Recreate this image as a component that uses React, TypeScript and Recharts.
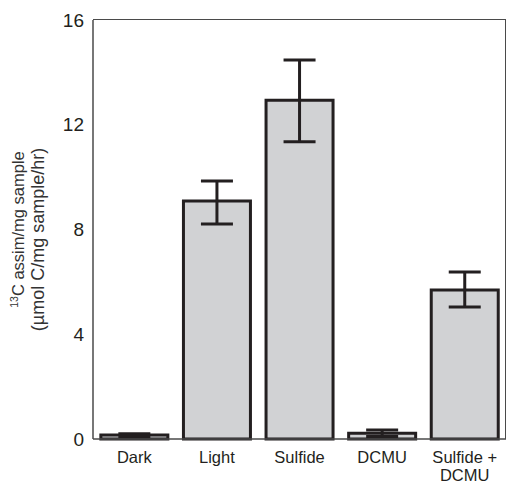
import { BarChart, Bar, XAxis, YAxis, ErrorBar } from 'recharts';

const categories = ['Dark', 'Light', 'Sulfide', 'DCMU', 'Sulfide +\nDCMU'];
const assim = [0.15, 9.09, 12.94, 0.22, 5.69];
const errLow = [0.05, 0.88, 1.59, 0.12, 0.65];
const errHigh = [0.05, 0.76, 1.53, 0.12, 0.69];
const yTicks = [0, 4, 8, 12, 16];

const data = categories.map((name, i) => ({
  name,
  value: assim[i],
  err: [errLow[i], errHigh[i]],
}));

const INK = '#231f20';
const FRAME = '#4a4a4a';
const FONT = '"Liberation Sans", Arial, Helvetica, sans-serif';

function CategoryTick(props: any) {
  const { x, y, payload } = props;
  const lines = String(payload.value).split('\n');
  return (
    <g transform={`translate(${x},${y})`}>
      {lines.map((line, i) => (
        <text
          key={i}
          x={0}
          y={15.5 + i * 18.5}
          textAnchor="middle"
          fontFamily={FONT}
          fontSize={16.5}
          fill={INK}
        >
          {line}
        </text>
      ))}
    </g>
  );
}

function YLabel(props: any) {
  const vb = props.viewBox || { x: 0, y: 20, width: 93, height: 419 };
  const cy = vb.y + vb.height / 2;
  return (
    <g>
      <text
        transform={`translate(24,${cy}) rotate(-90)`}
        textAnchor="middle"
        fontFamily={FONT}
        fontSize={16.5}
        fill="#333"
      >
        <tspan fontSize={10.5} dy={-6}>13</tspan>
        <tspan dy={6}>C assim/mg sample</tspan>
      </text>
      <text
        transform={`translate(44,${cy + 10}) rotate(-90)`}
        textAnchor="middle"
        fontFamily={FONT}
        fontSize={18}
        fill="#333"
      >
        (µmol C/mg sample/hr)
      </text>
    </g>
  );
}

export default function App() {
  return (
    <div style={{ position: 'absolute', left: 0, top: 0, width: 509, height: 484, background: '#fff' }}>
      <BarChart
        width={509}
        height={484}
        data={data}
        margin={{ top: 20, right: 3, bottom: 0, left: 0 }}
        barCategoryGap="9.5%"
      >
        <XAxis
          dataKey="name"
          height={45}
          tickLine={false}
          axisLine={{ stroke: FRAME, strokeWidth: 1.5 }}
          tick={<CategoryTick />}
          interval={0}
        />
        <YAxis
          width={93}
          domain={[0, 16]}
          ticks={yTicks}
          tickLine={false}
          axisLine={{ stroke: FRAME, strokeWidth: 1.5 }}
          tick={{ fill: INK, fontSize: 19, fontFamily: FONT }}
          tickMargin={3}
          label={{ content: <YLabel /> }}
        />
        <Bar
          dataKey="value"
          fill="#d1d2d4"
          stroke={INK}
          strokeWidth={3}
          isAnimationActive={false}
        >
          <ErrorBar dataKey="err" width={16} strokeWidth={3} stroke={INK} />
        </Bar>
      </BarChart>
      {/* plot frame (top and right edges) */}
      <div
        style={{
          position: 'absolute',
          left: 93,
          top: 19.25,
          width: 412.75,
          height: 420,
          borderTop: `1.5px solid ${FRAME}`,
          borderRight: `1.5px solid ${FRAME}`,
          boxSizing: 'border-box',
          pointerEvents: 'none',
        }}
      />
    </div>
  );
}
